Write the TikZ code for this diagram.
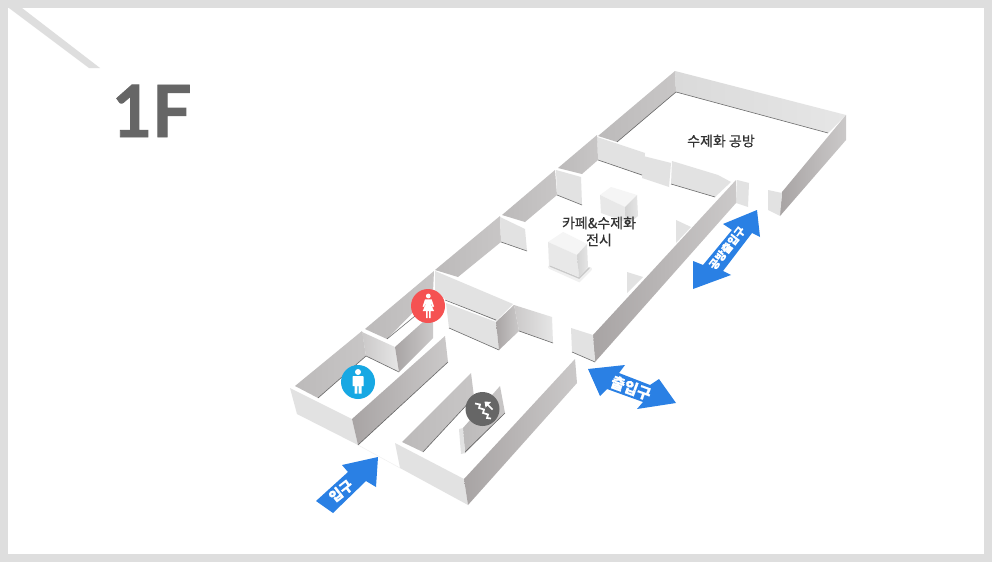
\documentclass[tikz,border=0pt]{standalone}
\usepackage{fontspec}
\setmainfont{Lato}[BoldFeatures={FakeBold=1.2,FakeStretch=.96}]
\newfontfamily\kr{Noto Sans CJK KR}[FakeBold=.5]
\newfontfamily\krb{Noto Sans CJK KR}[FakeBold=.3]
\definecolor{frame}{HTML}{DEDEDE}
\definecolor{ink}{HTML}{333333}
\definecolor{blueA}{HTML}{2A80E4}
\definecolor{redB}{HTML}{F55252}
\definecolor{blueB}{HTML}{17A8E3}
\definecolor{grayB}{HTML}{666666}
\definecolor{wgA}{HTML}{BCBABA}
\definecolor{wgB}{HTML}{C8C6C6}
\definecolor{wlA}{HTML}{E2E2E2}
\definecolor{wmA}{HTML}{DADADA}
\definecolor{wmB}{HTML}{E6E6E6}
\definecolor{wdA}{HTML}{A8A4A4}
\definecolor{wdB}{HTML}{CBC9C9}
\tikzset{
 wd/.style={left color=wdA,right color=wdB,draw=none},
 wg/.style={left color=wgA,right color=wgB,draw=none},
 wl/.style={fill=wlA,draw=none},
 wm/.style={left color=wmA,right color=wmB,draw=none},
 wt/.style={left color=wdB,right color=wmB,draw=none},
 boxtop/.style={fill=black!4,draw=none},
 boxfront/.style={fill=black!9,draw=none},
 boxside/.style={left color=black!17,right color=black!10,draw=none},
 softa/.style={draw=black,line width=4pt,opacity=.06,line cap=round},
 softb/.style={draw=black,line width=1.5pt,opacity=.16,line cap=round},
 edgeline/.style={draw=black!70,line width=.6pt,opacity=.8},
 arrowpoly/.style={fill=blueA,draw=none},
 lab/.style={font=\kr\fontsize{14}{17}\selectfont,text=ink,inner sep=0pt,align=center},
 alab/.style={font=\krb\bfseries\fontsize{#1}{#1}\selectfont,text=white,inner sep=0pt},
 badge/.style={circle,minimum size=34pt,inner sep=0pt,fill=#1,draw=none},
 ico/.style={fill=white,draw=none}
}
\begin{document}
\begin{tikzpicture}[x=1pt,y=-1pt]
\useasboundingbox (0,0) rectangle (992,562);
% frame
\fill[frame] (0,0) rectangle (992,562);
\fill[white] (8,8) rectangle (984,554);
\fill[frame] (9,8) -- (22,8) -- (100,68) -- (89,68) -- cycle;
\node[inner sep=0pt,anchor=base west,text=black!60,font=\fontsize{72}{72}\selectfont\bfseries] (title) at (112,137) {1F};
% back workshop
\path[wg] (598,136) -- (675,71) -- (676,92) -- (617,142) -- cycle;
\path[wm] (675,71) -- (846,115) -- (828,133) -- (676,92) -- cycle;
\draw[edgeline] (617,142) -- (676,92) -- (828,133);
\path[wd] (782,192) -- (846,115) -- (846,140) -- (780,216) -- cycle;
\path[wl] (768,190) -- (782,193) -- (780,216) -- (768,210) -- cycle;
\path[wl] (737,180) -- (749,183) -- (748,207) -- (736,203) -- cycle;
% inner wall of workshop
\path[wl] (597,137) -- (645,153) -- (643,176) -- (598,160) -- cycle;
\path[wl] (643,156) -- (671,163) -- (669,187) -- (642,178) -- cycle;
\path[wl] (672,161) -- (718,175) -- (731,182) -- (715,197) -- (671,184) -- cycle;
\draw[edgeline] (598,160) -- (642,175);
\draw[edgeline] (671,184) -- (715,197);
% long dark wall
\path[wd] (593,335) -- (736,180) -- (736,203) -- (595,362) -- cycle;
\path[wl] (571,328) -- (593,335) -- (595,362) -- (572,352) -- cycle;
\draw[edgeline] (572,352) -- (595,362);
% upper-left gray walls
\path[wg] (558,168) -- (597,135) -- (598,160) -- (582,174) -- cycle;
\path[wg] (502,215) -- (555,170) -- (557,195) -- (525,222) -- cycle;
\path[wl] (556,170) -- (581,177) -- (582,205) -- (557,195) -- cycle;
\draw[edgeline] (557,195) -- (582,205);
\path[wg] (435,270) -- (500,216) -- (501,242) -- (458,277) -- cycle;
\path[wl] (500,217) -- (525,229) -- (527,251) -- (501,242) -- cycle;
\draw[edgeline] (501,242) -- (527,251);
% boxes
\draw[softa] (550,267) -- (579,280) -- (590,269);
\draw[softb] (550,266) -- (579,278) -- (589,268);
\path[boxtop] (548,242) -- (563,232) -- (587,244) -- (577,255) -- cycle;
\path[boxfront] (548,242) -- (577,255) -- (579,277) -- (549,265) -- cycle;
\path[boxside] (577,255) -- (587,244) -- (588,267) -- (579,277) -- cycle;
\path[boxtop] (600,195) -- (611,187) -- (637,195) -- (625,207) -- cycle;
\path[boxfront] (600,195) -- (625,207) -- (626,222) -- (601,213) -- cycle;
\path[boxside] (625,207) -- (637,195) -- (638,216) -- (626,226) -- cycle;
% wedges
\path[wl] (676,220) -- (691,227) -- (676,243) -- cycle;
\path[wl] (627,272) -- (643,277) -- (627,293) -- cycle;
% middle block
\path[wl] (435,271) -- (513,304) -- (496,321) -- (445,299) -- (435,293) -- cycle;
\draw[edgeline] (445,300) -- (496,320);
\path[wl] (446,303) -- (496,322) -- (499,350) -- (449,328) -- cycle;
\draw[edgeline] (449,328) -- (499,350);
\path[wd] (496,322) -- (514,305) -- (519,331) -- (499,350) -- cycle;
\path[wt] (514,305) -- (552,317) -- (553,343) -- (519,331) -- cycle;
\draw[edgeline] (519,331) -- (553,343);
% toilet block
\path[wg] (365,329) -- (434,271) -- (433,292) -- (387,339) -- cycle;
\draw[edgeline] (387,339) -- (415,316);
\path[wg] (295,386) -- (362,331) -- (366,356) -- (318,398) -- cycle;
\draw[edgeline] (318,398) -- (366,356);
\path[wt] (362,332) -- (395,347) -- (399,372) -- (366,356) -- cycle;
\draw[edgeline] (366,356) -- (399,372);
\path[wd] (395,347) -- (433,313) -- (433,338) -- (399,372) -- cycle;
\path[wl] (290,388) -- (352,419) -- (358,445) -- (297,414) -- cycle;
\path[wd] (352,419) -- (445,336) -- (448,362) -- (358,445) -- cycle;
\draw[edgeline] (358,445) -- (448,362);
% lower corridor block
\path[wg] (402,442) -- (471,373) -- (474,397) -- (423,452) -- cycle;
\draw[edgeline] (423,452) -- (474,397);
\path[wl] (395,443) -- (464,479) -- (468,505) -- (400,468) -- cycle;
\path[wd] (464,479) -- (575,359) -- (577,383) -- (468,505) -- cycle;
\path[wg] (463,428) -- (500,386) -- (505,413) -- (465,453) -- cycle;
\draw[edgeline] (464,453) -- (505,413);
\path[wl] (459,429) -- (463,428) -- (465,453) -- (461,454) -- cycle;
\draw[black!6,line width=.5pt] (358,445) -- (400,468);
% badges
\node[badge=redB] (wc) at (428,306) {};
\node[badge=blueB] (mc) at (358,382) {};
\node[badge=grayB] (st) at (482.5,409) {};
% woman icon
\fill[ico] (428.3,296) circle (2.4);
\path[ico] (425,299.3) -- (431.6,299.3) -- (434,306.5) -- (432.6,307) -- (431,303) -- (431,304.5) -- (434,311) -- (430.7,311) -- (430.7,318) -- (429,318) -- (429,311) -- (427.7,311) -- (427.7,318) -- (426,318) -- (426,311) -- (422.7,311) -- (425.7,304.5) -- (425.7,303) -- (424,307) -- (422.6,306.5) -- cycle;
% man icon
\fill[ico] (358,372) circle (3);
\path[ico] (353,376) -- (363,376) -- (363.5,377) -- (363.5,386) -- (361.5,386) -- (361.5,393.5) -- (358.6,393.5) -- (358.6,386) -- (357.4,386) -- (357.4,393.5) -- (354.5,393.5) -- (354.5,386) -- (352.5,386) -- (352.5,377) -- cycle;
% stairs icon
\draw[white,line width=1.7pt,miter limit=4] (475,403.5) -- (480,404.5) -- (479,408) -- (484,409.5) -- (483,413) -- (488,414.5) -- (487,418) -- (491,418.5);
\draw[white,line width=1.7pt] (492.5,409.5) -- (486,403);
\path[ico] (484.5,401.5) -- (491,402) -- (485.5,407.5) -- cycle;
% labels
\node[lab] (workshop) at (721,141) {수제화 공방};
\node[lab] (cafe) at (599,231.5) {카페\&수제화\\전시};
% arrows
\path[arrowpoly] (378,457) -- (342,465) -- (348,472) -- (316,501) -- (333,513) -- (366,481) -- (376,487) -- cycle;
\node[alab=14,rotate=38] (in1) at (341,491) {입구};
\path[arrowpoly] (588,369) -- (625,365) -- (619,373) -- (650,385) -- (659,379) -- (676,403) -- (637,409) -- (643,402) -- (607,389) -- (600,396) -- cycle;
\node[alab=15,rotate=-20] (in2) at (631,388) {출입구};
\path[arrowpoly] (757,210) -- (723,224) -- (732,230) -- (703,265) -- (693,261) -- (693,289) -- (731,275) -- (723,271) -- (752,233) -- (760,237) -- cycle;
\node[alab=11,rotate=52] (in3) at (727,248) {공방출입구};
\end{tikzpicture}
\end{document}
